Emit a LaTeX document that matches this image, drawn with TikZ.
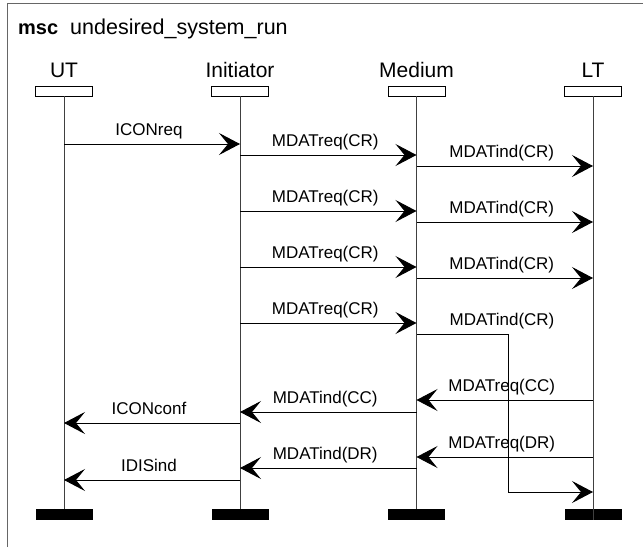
\documentclass[tikz,border=0pt]{standalone}
\usepackage{fontspec}
\setmainfont{Liberation Sans}
\usetikzlibrary{arrows.meta}
\begin{document}
\begin{tikzpicture}[x=1pt,y=-1pt,
  headbox/.style={draw=black,line width=0.9pt,fill=white,minimum width=57pt,minimum height=10pt,inner sep=0pt},
  endbar/.style={fill=black,minimum width=57pt,minimum height=11pt,inner sep=0pt},
  instname/.style={font=\fontsize{21}{21}\selectfont,anchor=base,inner sep=0pt},
  lifeline/.style={draw=black!75,line width=1pt},
  msgarrow/.style={draw=black,line width=0.9pt,-{Stealth[length=21pt,width=22pt,inset=9pt]}},
  msglabel/.style={font=\fontsize{17}{17}\selectfont,anchor=base,inner sep=0pt,yshift=9pt,xshift=-3pt},
  frameline/.style={draw=black!60,line width=1pt}]
\useasboundingbox (0,0) rectangle (643,547);
% frame of the chart
\draw[frameline] (7,547) -- (7,3) -- (643,3);
\node[anchor=base west,inner sep=0pt,font=\fontsize{20}{20}\selectfont\bfseries] (msckw) at (18,34) {msc};
\node[anchor=base west,inner sep=0pt,font=\fontsize{21.5}{21.5}\selectfont] (mscname) at (70,34) {undesired\_system\_run};
% instance heads
\node[headbox] (ut) at (64,91) {};
\node[headbox] (ini) at (240,91) {};
\node[headbox] (med) at (416.5,91) {};
\node[headbox] (lt) at (593,91) {};
\node[instname] (utn) at (64,77) {UT};
\node[instname] (inin) at (240,77) {Initiator};
\node[instname] (medn) at (416.5,77) {Medium};
\node[instname] (ltn) at (593,77) {LT};
% instance ends
\node[endbar] (ute) at (64,514.5) {};
\node[endbar] (inie) at (240,514.5) {};
\node[endbar] (mede) at (416.5,514.5) {};
\node[endbar] (lte) at (593,514.5) {};
% lifelines
\draw[lifeline] (ut.south) -- (ute.north);
\draw[lifeline] (ini.south) -- (inie.north);
\draw[lifeline] (med.south) -- (mede.north);
\draw[lifeline] (lt.south) -- (lte.south);
% messages
\newcommand\msgline[4]{\draw[msgarrow] (#1 |- 0,#3) -- (#2 |- 0,#3) node[msglabel,pos=0.5] {#4};}
\msgline{ut}{ini}{144}{ICONreq}
\msgline{ini}{med}{155}{MDATreq(CR)}
\msgline{med}{lt}{166}{MDATind(CR)}
\msgline{ini}{med}{211}{MDATreq(CR)}
\msgline{med}{lt}{222}{MDATind(CR)}
\msgline{ini}{med}{267}{MDATreq(CR)}
\msgline{med}{lt}{278}{MDATind(CR)}
\msgline{ini}{med}{323}{MDATreq(CR)}
% delayed indication with a bent path
\coordinate (bendtop) at (508,334);
\coordinate (bendbot) at (508,492);
\draw[msgarrow] (med |- bendtop) -- (bendtop) -- (bendbot) -- (lt |- bendbot);
\node[msglabel] (lateind) at (505,334) {MDATind(CR)};
\msgline{lt}{med}{400}{MDATreq(CC)}
\msgline{med}{ini}{412}{MDATind(CC)}
\msgline{ini}{ut}{423}{ICONconf}
\msgline{lt}{med}{457}{MDATreq(DR)}
\msgline{med}{ini}{468}{MDATind(DR)}
\msgline{ini}{ut}{480}{IDISind}
\end{tikzpicture}
\end{document}
